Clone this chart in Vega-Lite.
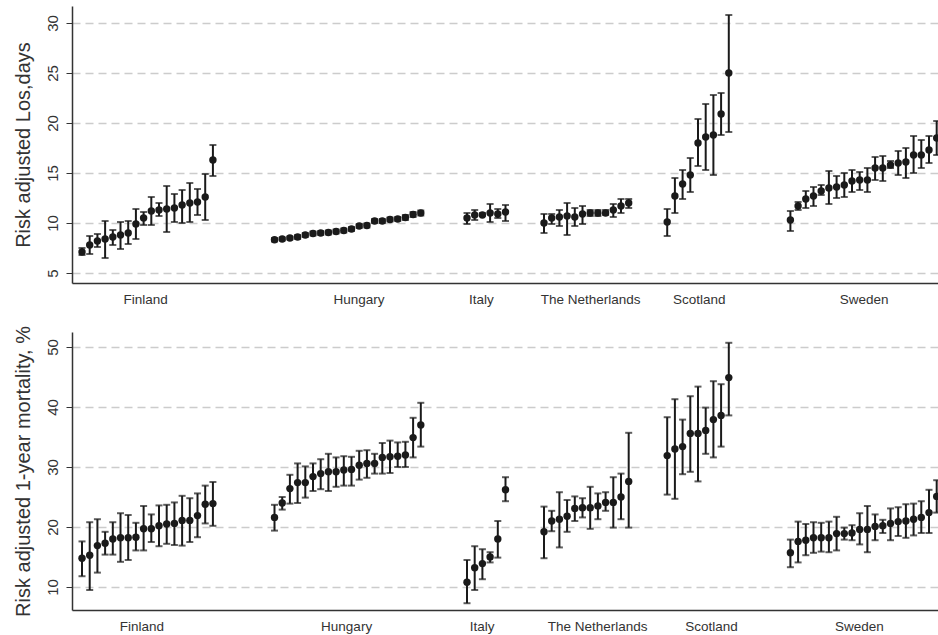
{
  "$schema": "https://vega.github.io/schema/vega-lite/v6.json",
  "padding": {"left": 12, "top": 6, "right": 0, "bottom": 4},
  "background": "white",
  "config": {
    "view": {"stroke": null},
    "font": "Liberation Sans",
    "axis": {"labelFont": "Liberation Sans", "titleFont": "Liberation Sans", "domainColor": "#333333", "labelColor": "#333333", "titleColor": "#333333", "tickColor": "#333333", "titleFontWeight": "normal", "domainWidth": 1.5}
  },
  "datasets": {
    "los": [
      {"country": "Finland", "pos": 0, "est": 7.1, "lo": 6.8, "hi": 7.5},
      {"country": "Finland", "pos": 1, "est": 7.8, "lo": 6.9, "hi": 8.7},
      {"country": "Finland", "pos": 2, "est": 8.2, "lo": 7.6, "hi": 8.9},
      {"country": "Finland", "pos": 3, "est": 8.4, "lo": 6.5, "hi": 10.2},
      {"country": "Finland", "pos": 4, "est": 8.6, "lo": 7.8, "hi": 9.3},
      {"country": "Finland", "pos": 5, "est": 8.8, "lo": 7.4, "hi": 10.1},
      {"country": "Finland", "pos": 6, "est": 9.0, "lo": 7.9, "hi": 10.2},
      {"country": "Finland", "pos": 7, "est": 9.9, "lo": 8.4, "hi": 11.4},
      {"country": "Finland", "pos": 8, "est": 10.5, "lo": 9.8, "hi": 11.1},
      {"country": "Finland", "pos": 9, "est": 11.2, "lo": 9.8, "hi": 12.6},
      {"country": "Finland", "pos": 10, "est": 11.3, "lo": 10.7, "hi": 12.0},
      {"country": "Finland", "pos": 11, "est": 11.4, "lo": 9.1, "hi": 13.7},
      {"country": "Finland", "pos": 12, "est": 11.5, "lo": 10.1, "hi": 12.9},
      {"country": "Finland", "pos": 13, "est": 11.8, "lo": 10.0, "hi": 13.3},
      {"country": "Finland", "pos": 14, "est": 12.0, "lo": 10.1, "hi": 14.0},
      {"country": "Finland", "pos": 15, "est": 12.1, "lo": 10.8, "hi": 13.4},
      {"country": "Finland", "pos": 16, "est": 12.6, "lo": 10.3, "hi": 14.9},
      {"country": "Finland", "pos": 17, "est": 16.3, "lo": 14.7, "hi": 17.8},
      {"country": "Hungary", "pos": 25, "est": 8.33, "lo": 8.15, "hi": 8.5},
      {"country": "Hungary", "pos": 26, "est": 8.4, "lo": 8.25, "hi": 8.55},
      {"country": "Hungary", "pos": 27, "est": 8.5, "lo": 8.35, "hi": 8.65},
      {"country": "Hungary", "pos": 28, "est": 8.6, "lo": 8.4, "hi": 8.8},
      {"country": "Hungary", "pos": 29, "est": 8.8, "lo": 8.6, "hi": 9.0},
      {"country": "Hungary", "pos": 30, "est": 8.95, "lo": 8.75, "hi": 9.15},
      {"country": "Hungary", "pos": 31, "est": 9.0, "lo": 8.8, "hi": 9.2},
      {"country": "Hungary", "pos": 32, "est": 9.05, "lo": 8.85, "hi": 9.25},
      {"country": "Hungary", "pos": 33, "est": 9.15, "lo": 8.95, "hi": 9.35},
      {"country": "Hungary", "pos": 34, "est": 9.25, "lo": 9.05, "hi": 9.45},
      {"country": "Hungary", "pos": 35, "est": 9.4, "lo": 9.2, "hi": 9.6},
      {"country": "Hungary", "pos": 36, "est": 9.7, "lo": 9.5, "hi": 9.9},
      {"country": "Hungary", "pos": 37, "est": 9.75, "lo": 9.55, "hi": 9.95},
      {"country": "Hungary", "pos": 38, "est": 10.2, "lo": 10.0, "hi": 10.4},
      {"country": "Hungary", "pos": 39, "est": 10.2, "lo": 10.0, "hi": 10.4},
      {"country": "Hungary", "pos": 40, "est": 10.35, "lo": 10.15, "hi": 10.55},
      {"country": "Hungary", "pos": 41, "est": 10.4, "lo": 10.2, "hi": 10.6},
      {"country": "Hungary", "pos": 42, "est": 10.55, "lo": 10.3, "hi": 10.8},
      {"country": "Hungary", "pos": 43, "est": 10.85, "lo": 10.6, "hi": 11.1},
      {"country": "Hungary", "pos": 44, "est": 11.0, "lo": 10.75, "hi": 11.25},
      {"country": "Italy", "pos": 50, "est": 10.5, "lo": 9.9, "hi": 11.0},
      {"country": "Italy", "pos": 51, "est": 10.8, "lo": 10.3, "hi": 11.3},
      {"country": "Italy", "pos": 52, "est": 10.8, "lo": 10.7, "hi": 11.0},
      {"country": "Italy", "pos": 53, "est": 11.0, "lo": 10.1, "hi": 11.9},
      {"country": "Italy", "pos": 54, "est": 10.9, "lo": 10.5, "hi": 11.4},
      {"country": "Italy", "pos": 55, "est": 11.1, "lo": 10.2, "hi": 11.8},
      {"country": "The Netherlands", "pos": 60, "est": 10.0, "lo": 9.0, "hi": 10.9},
      {"country": "The Netherlands", "pos": 61, "est": 10.5, "lo": 9.9, "hi": 10.9},
      {"country": "The Netherlands", "pos": 62, "est": 10.6, "lo": 9.7, "hi": 11.3},
      {"country": "The Netherlands", "pos": 63, "est": 10.7, "lo": 8.8, "hi": 12.0},
      {"country": "The Netherlands", "pos": 64, "est": 10.6, "lo": 9.7, "hi": 11.5},
      {"country": "The Netherlands", "pos": 65, "est": 10.9, "lo": 9.9, "hi": 11.7},
      {"country": "The Netherlands", "pos": 66, "est": 11.0, "lo": 10.7, "hi": 11.3},
      {"country": "The Netherlands", "pos": 67, "est": 11.0, "lo": 10.7, "hi": 11.3},
      {"country": "The Netherlands", "pos": 68, "est": 11.0, "lo": 10.8, "hi": 11.3},
      {"country": "The Netherlands", "pos": 69, "est": 11.3, "lo": 10.6, "hi": 11.9},
      {"country": "The Netherlands", "pos": 70, "est": 11.7, "lo": 11.0, "hi": 12.4},
      {"country": "The Netherlands", "pos": 71, "est": 12.0, "lo": 11.5, "hi": 12.4},
      {"country": "Scotland", "pos": 76, "est": 10.1, "lo": 8.7, "hi": 11.4},
      {"country": "Scotland", "pos": 77, "est": 12.7, "lo": 11.0, "hi": 14.5},
      {"country": "Scotland", "pos": 78, "est": 13.9, "lo": 12.4, "hi": 15.3},
      {"country": "Scotland", "pos": 79, "est": 14.8, "lo": 13.1, "hi": 16.5},
      {"country": "Scotland", "pos": 80, "est": 18.0, "lo": 15.7, "hi": 20.4},
      {"country": "Scotland", "pos": 81, "est": 18.6, "lo": 15.3, "hi": 21.9},
      {"country": "Scotland", "pos": 82, "est": 18.8, "lo": 14.8, "hi": 22.8},
      {"country": "Scotland", "pos": 83, "est": 20.9, "lo": 18.8, "hi": 23.0},
      {"country": "Scotland", "pos": 84, "est": 25.0, "lo": 19.1, "hi": 30.8},
      {"country": "Sweden", "pos": 92, "est": 10.3, "lo": 9.2, "hi": 11.2},
      {"country": "Sweden", "pos": 93, "est": 11.7, "lo": 11.3, "hi": 12.1},
      {"country": "Sweden", "pos": 94, "est": 12.4, "lo": 11.5, "hi": 13.2},
      {"country": "Sweden", "pos": 95, "est": 12.7, "lo": 11.7, "hi": 13.6},
      {"country": "Sweden", "pos": 96, "est": 13.2, "lo": 12.8, "hi": 13.8},
      {"country": "Sweden", "pos": 97, "est": 13.5, "lo": 11.9, "hi": 15.2},
      {"country": "Sweden", "pos": 98, "est": 13.6, "lo": 12.5, "hi": 14.7},
      {"country": "Sweden", "pos": 99, "est": 13.8, "lo": 12.6, "hi": 15.0},
      {"country": "Sweden", "pos": 100, "est": 14.2, "lo": 13.1, "hi": 15.3},
      {"country": "Sweden", "pos": 101, "est": 14.3, "lo": 13.3, "hi": 15.1},
      {"country": "Sweden", "pos": 102, "est": 14.3, "lo": 13.1, "hi": 15.5},
      {"country": "Sweden", "pos": 103, "est": 15.5, "lo": 14.3, "hi": 16.6},
      {"country": "Sweden", "pos": 104, "est": 15.5, "lo": 14.2, "hi": 16.7},
      {"country": "Sweden", "pos": 105, "est": 15.8, "lo": 15.5, "hi": 16.2},
      {"country": "Sweden", "pos": 106, "est": 16.0, "lo": 14.8, "hi": 17.2},
      {"country": "Sweden", "pos": 107, "est": 16.1, "lo": 14.5, "hi": 17.5},
      {"country": "Sweden", "pos": 108, "est": 16.8, "lo": 15.0, "hi": 18.7},
      {"country": "Sweden", "pos": 109, "est": 16.8, "lo": 15.5, "hi": 18.3},
      {"country": "Sweden", "pos": 110, "est": 17.3, "lo": 16.0, "hi": 18.7},
      {"country": "Sweden", "pos": 111, "est": 18.5, "lo": 16.8, "hi": 20.2}
    ],
    "mort": [
      {"country": "Finland", "pos": 0, "est": 14.8, "lo": 11.8, "hi": 17.6},
      {"country": "Finland", "pos": 1, "est": 15.3, "lo": 9.5, "hi": 20.8},
      {"country": "Finland", "pos": 2, "est": 16.9, "lo": 12.4, "hi": 21.3},
      {"country": "Finland", "pos": 3, "est": 17.3, "lo": 15.4, "hi": 19.2},
      {"country": "Finland", "pos": 4, "est": 18.0, "lo": 15.4, "hi": 20.8},
      {"country": "Finland", "pos": 5, "est": 18.2, "lo": 14.2, "hi": 22.3},
      {"country": "Finland", "pos": 6, "est": 18.2, "lo": 14.5, "hi": 22.0},
      {"country": "Finland", "pos": 7, "est": 18.3, "lo": 16.1, "hi": 20.7},
      {"country": "Finland", "pos": 8, "est": 19.7, "lo": 16.1, "hi": 23.5},
      {"country": "Finland", "pos": 9, "est": 19.7, "lo": 17.5, "hi": 22.1},
      {"country": "Finland", "pos": 10, "est": 20.2, "lo": 16.8, "hi": 23.6},
      {"country": "Finland", "pos": 11, "est": 20.5, "lo": 17.2, "hi": 23.7},
      {"country": "Finland", "pos": 12, "est": 20.6, "lo": 17.0, "hi": 24.1},
      {"country": "Finland", "pos": 13, "est": 21.1, "lo": 16.9, "hi": 25.2},
      {"country": "Finland", "pos": 14, "est": 21.1, "lo": 17.5, "hi": 24.8},
      {"country": "Finland", "pos": 15, "est": 21.9, "lo": 18.3, "hi": 25.6},
      {"country": "Finland", "pos": 16, "est": 23.8, "lo": 20.6, "hi": 26.9},
      {"country": "Finland", "pos": 17, "est": 23.9, "lo": 20.2, "hi": 27.5},
      {"country": "Hungary", "pos": 25, "est": 21.6, "lo": 19.4, "hi": 23.7},
      {"country": "Hungary", "pos": 26, "est": 24.0, "lo": 22.9, "hi": 25.0},
      {"country": "Hungary", "pos": 27, "est": 26.4, "lo": 23.9, "hi": 28.7},
      {"country": "Hungary", "pos": 28, "est": 27.4, "lo": 24.0, "hi": 30.6},
      {"country": "Hungary", "pos": 29, "est": 27.4, "lo": 24.9, "hi": 30.1},
      {"country": "Hungary", "pos": 30, "est": 28.4, "lo": 26.0, "hi": 30.6},
      {"country": "Hungary", "pos": 31, "est": 28.9, "lo": 26.3, "hi": 31.3},
      {"country": "Hungary", "pos": 32, "est": 29.2, "lo": 26.0, "hi": 32.2},
      {"country": "Hungary", "pos": 33, "est": 29.2, "lo": 26.7, "hi": 31.6},
      {"country": "Hungary", "pos": 34, "est": 29.5, "lo": 26.9, "hi": 31.8},
      {"country": "Hungary", "pos": 35, "est": 29.6, "lo": 26.9, "hi": 31.7},
      {"country": "Hungary", "pos": 36, "est": 30.3, "lo": 27.9, "hi": 32.7},
      {"country": "Hungary", "pos": 37, "est": 30.6, "lo": 28.2, "hi": 32.8},
      {"country": "Hungary", "pos": 38, "est": 30.6, "lo": 28.9, "hi": 32.2},
      {"country": "Hungary", "pos": 39, "est": 31.6, "lo": 28.9, "hi": 34.0},
      {"country": "Hungary", "pos": 40, "est": 31.7, "lo": 29.0, "hi": 34.4},
      {"country": "Hungary", "pos": 41, "est": 31.8, "lo": 30.0, "hi": 34.1},
      {"country": "Hungary", "pos": 42, "est": 32.0, "lo": 30.0, "hi": 34.2},
      {"country": "Hungary", "pos": 43, "est": 34.9, "lo": 31.6, "hi": 38.2},
      {"country": "Hungary", "pos": 44, "est": 37.0, "lo": 33.4, "hi": 40.7},
      {"country": "Italy", "pos": 50, "est": 10.8, "lo": 7.3, "hi": 14.5},
      {"country": "Italy", "pos": 51, "est": 13.2, "lo": 9.5, "hi": 16.8},
      {"country": "Italy", "pos": 52, "est": 13.9, "lo": 11.3, "hi": 16.3},
      {"country": "Italy", "pos": 53, "est": 15.0, "lo": 14.1, "hi": 15.8},
      {"country": "Italy", "pos": 54, "est": 18.0, "lo": 14.9, "hi": 21.0},
      {"country": "Italy", "pos": 55, "est": 26.2, "lo": 24.3, "hi": 28.3},
      {"country": "The Netherlands", "pos": 60, "est": 19.2, "lo": 14.8, "hi": 23.4},
      {"country": "The Netherlands", "pos": 61, "est": 21.0, "lo": 19.3, "hi": 22.7},
      {"country": "The Netherlands", "pos": 62, "est": 21.3, "lo": 16.6, "hi": 25.8},
      {"country": "The Netherlands", "pos": 63, "est": 21.8, "lo": 19.2, "hi": 24.5},
      {"country": "The Netherlands", "pos": 64, "est": 23.1, "lo": 21.0, "hi": 25.1},
      {"country": "The Netherlands", "pos": 65, "est": 23.2, "lo": 21.6, "hi": 24.8},
      {"country": "The Netherlands", "pos": 66, "est": 23.2, "lo": 19.7, "hi": 26.7},
      {"country": "The Netherlands", "pos": 67, "est": 23.5, "lo": 21.3, "hi": 25.6},
      {"country": "The Netherlands", "pos": 68, "est": 24.1, "lo": 22.7, "hi": 25.8},
      {"country": "The Netherlands", "pos": 69, "est": 24.1, "lo": 19.9, "hi": 28.3},
      {"country": "The Netherlands", "pos": 70, "est": 25.0, "lo": 21.3, "hi": 28.9},
      {"country": "The Netherlands", "pos": 71, "est": 27.6, "lo": 19.9, "hi": 35.7},
      {"country": "Scotland", "pos": 76, "est": 31.9, "lo": 25.4, "hi": 38.3},
      {"country": "Scotland", "pos": 77, "est": 33.0, "lo": 24.7, "hi": 41.3},
      {"country": "Scotland", "pos": 78, "est": 33.4, "lo": 28.8, "hi": 37.9},
      {"country": "Scotland", "pos": 79, "est": 35.6, "lo": 29.2, "hi": 41.8},
      {"country": "Scotland", "pos": 80, "est": 35.6, "lo": 27.6, "hi": 43.4},
      {"country": "Scotland", "pos": 81, "est": 36.1, "lo": 32.2, "hi": 39.9},
      {"country": "Scotland", "pos": 82, "est": 37.9, "lo": 31.6, "hi": 44.3},
      {"country": "Scotland", "pos": 83, "est": 38.6, "lo": 33.4, "hi": 43.8},
      {"country": "Scotland", "pos": 84, "est": 44.9, "lo": 38.6, "hi": 50.7},
      {"country": "Sweden", "pos": 92, "est": 15.7, "lo": 13.3, "hi": 17.9},
      {"country": "Sweden", "pos": 93, "est": 17.6, "lo": 14.1, "hi": 20.9},
      {"country": "Sweden", "pos": 94, "est": 17.8, "lo": 15.3, "hi": 20.5},
      {"country": "Sweden", "pos": 95, "est": 18.2, "lo": 15.7, "hi": 20.8},
      {"country": "Sweden", "pos": 96, "est": 18.2, "lo": 15.9, "hi": 20.7},
      {"country": "Sweden", "pos": 97, "est": 18.2, "lo": 15.8, "hi": 20.9},
      {"country": "Sweden", "pos": 98, "est": 18.9, "lo": 16.1, "hi": 21.7},
      {"country": "Sweden", "pos": 99, "est": 18.9, "lo": 17.9, "hi": 19.9},
      {"country": "Sweden", "pos": 100, "est": 19.0, "lo": 17.8, "hi": 20.3},
      {"country": "Sweden", "pos": 101, "est": 19.6, "lo": 17.1, "hi": 22.3},
      {"country": "Sweden", "pos": 102, "est": 19.6, "lo": 15.8, "hi": 23.5},
      {"country": "Sweden", "pos": 103, "est": 20.1, "lo": 17.8, "hi": 22.1},
      {"country": "Sweden", "pos": 104, "est": 20.2, "lo": 19.0, "hi": 21.2},
      {"country": "Sweden", "pos": 105, "est": 20.6, "lo": 17.8, "hi": 23.1},
      {"country": "Sweden", "pos": 106, "est": 20.9, "lo": 18.5, "hi": 23.3},
      {"country": "Sweden", "pos": 107, "est": 21.0, "lo": 18.2, "hi": 23.8},
      {"country": "Sweden", "pos": 108, "est": 21.3, "lo": 18.6, "hi": 23.9},
      {"country": "Sweden", "pos": 109, "est": 21.6, "lo": 19.0, "hi": 24.3},
      {"country": "Sweden", "pos": 110, "est": 22.4, "lo": 19.0, "hi": 26.2},
      {"country": "Sweden", "pos": 111, "est": 25.1, "lo": 22.4, "hi": 27.8}
    ]
  },
  "vconcat": [
    {
      "width": 867,
      "height": 277,
      "data": {"name": "los"},
      "encoding": {
        "x": {"field": "pos", "type": "quantitative", "scale": {"domain": [-1.3, 111.3], "nice": false, "zero": false},
          "axis": {"title": null, "values": [8.2, 35.9, 51.8, 66, 80.1, 101.5], "labelExpr": "datum.value < 20 ? 'Finland' : datum.value < 45 ? 'Hungary' : datum.value < 58 ? 'Italy' : datum.value < 73 ? 'The Netherlands' : datum.value < 88 ? 'Scotland' : 'Sweden'", "ticks": false, "grid": false, "labelFontSize": 13.5, "labelPadding": 9, "labelFlush": false}}
      },
      "layer": [
        {"mark": {"type": "rule", "color": "#1a1a1a", "strokeWidth": 2, "clip": true},
          "encoding": {"y": {"field": "lo", "type": "quantitative", "scale": {"domain": [4.0, 31.7], "nice": false, "zero": false},
            "axis": {"title": "Risk adjusted Los,days", "values": [5, 10, 15, 20, 25, 30], "grid": true, "gridDash": [8, 5], "gridColor": "#cccccc", "gridWidth": 1.5, "labelAngle": 270, "labelAlign": "center", "labelBaseline": "bottom", "labelFontSize": 15, "labelPadding": 6, "tickSize": 6, "titleFontSize": 20, "titlePadding": 12}},
            "y2": {"field": "hi"}}},
        {"mark": {"type": "tick", "orient": "horizontal", "color": "#1a1a1a", "size": 7, "thickness": 2, "clip": true},
          "encoding": {"y": {"field": "lo", "type": "quantitative"}}},
        {"mark": {"type": "tick", "orient": "horizontal", "color": "#1a1a1a", "size": 7, "thickness": 2, "clip": true},
          "encoding": {"y": {"field": "hi", "type": "quantitative"}}},
        {"mark": {"type": "point", "filled": true, "color": "#1a1a1a", "size": 55, "opacity": 1, "clip": true},
          "encoding": {"y": {"field": "est", "type": "quantitative"}}}
      ]
    },
    {
      "width": 867,
      "height": 278,
      "data": {"name": "mort"},
      "encoding": {
        "x": {"field": "pos", "type": "quantitative", "scale": {"domain": [-1.3, 111.3], "nice": false, "zero": false},
          "axis": {"title": null, "values": [7.7, 34.3, 51.9, 66.9, 81.7, 100.9], "labelExpr": "datum.value < 20 ? 'Finland' : datum.value < 45 ? 'Hungary' : datum.value < 58 ? 'Italy' : datum.value < 73 ? 'The Netherlands' : datum.value < 88 ? 'Scotland' : 'Sweden'", "ticks": false, "grid": false, "labelFontSize": 13.5, "labelPadding": 9, "labelFlush": false}}
      },
      "layer": [
        {"mark": {"type": "rule", "color": "#1a1a1a", "strokeWidth": 2, "clip": true},
          "encoding": {"y": {"field": "lo", "type": "quantitative", "scale": {"domain": [6.17, 52.5], "nice": false, "zero": false},
            "axis": {"title": "Risk adjusted 1-year mortality, %", "values": [10, 20, 30, 40, 50], "grid": true, "gridDash": [8, 5], "gridColor": "#cccccc", "gridWidth": 1.5, "labelAngle": 270, "labelAlign": "center", "labelBaseline": "bottom", "labelFontSize": 15, "labelPadding": 6, "tickSize": 6, "titleFontSize": 20, "titlePadding": 12}},
            "y2": {"field": "hi"}}},
        {"mark": {"type": "tick", "orient": "horizontal", "color": "#1a1a1a", "size": 7, "thickness": 2, "clip": true},
          "encoding": {"y": {"field": "lo", "type": "quantitative"}}},
        {"mark": {"type": "tick", "orient": "horizontal", "color": "#1a1a1a", "size": 7, "thickness": 2, "clip": true},
          "encoding": {"y": {"field": "hi", "type": "quantitative"}}},
        {"mark": {"type": "point", "filled": true, "color": "#1a1a1a", "size": 55, "opacity": 1, "clip": true},
          "encoding": {"y": {"field": "est", "type": "quantitative"}}}
      ]
    }
  ],
  "spacing": 49,
  "bounds": "flush"
}
